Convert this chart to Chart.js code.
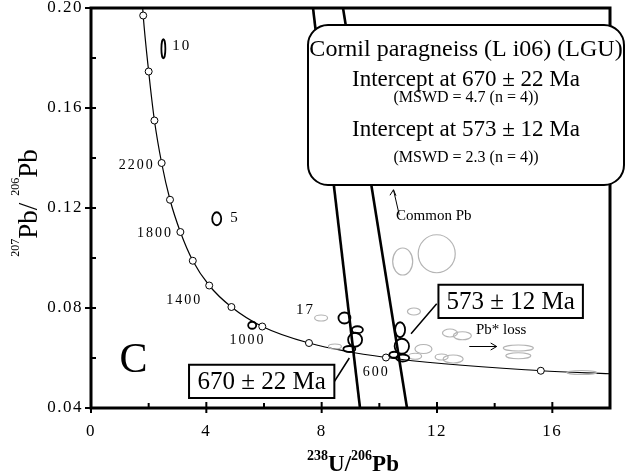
<!DOCTYPE html>
<html>
<head>
<meta charset="utf-8">
<script src="https://cdn.jsdelivr.net/npm/chart.js@4.4.1/dist/chart.umd.min.js"></script>
<style>
  html, body { margin: 0; padding: 0; background: #fff; }
</style>
</head>
<body>
<canvas id="chart" width="626" height="475"></canvas>
<script>
const SERIF = "'Liberation Serif', 'Times New Roman', serif";

const xMajor = [0, 4, 8, 12, 16];
const yMajor = [0.04, 0.08, 0.12, 0.16, 0.20];

// concordia age markers (Ma)
const concordiaAges = [2800, 2600, 2400, 2200, 2000, 1800, 1600, 1400, 1200, 1000, 800, 600, 400];
const concordiaX = [1.81, 2.00, 2.20, 2.45, 2.74, 3.10, 3.53, 4.10, 4.87, 5.94, 7.56, 10.23, 15.6];
const concordiaY = [0.197, 0.1746, 0.155, 0.138, 0.1233, 0.1104, 0.0989, 0.089, 0.0804, 0.0726, 0.066, 0.0602, 0.0549];
// where the curve leaves the frame
const curveStart = [1.79, 0.2005];
const curveEnd = [18, 0.0537];

// discordia chords (670 Ma and 573 Ma)
const chordAX = [7.70, 9.33];
const chordAY = [0.20, 0.04];
const chordBX = [8.74, 10.96];
const chordBY = [0.20, 0.04];

// analyses used (black) – centre and half-widths of error ellipses
const usedX  = [2.51, 4.36, 5.59, 8.79, 9.24, 9.16, 8.96, 10.72, 10.78, 10.52, 10.81];
const usedY  = [0.1837, 0.1157, 0.0731, 0.0760, 0.0713, 0.0673, 0.0636, 0.0713, 0.0647, 0.0613, 0.0600];
const usedSx = [0.069, 0.156, 0.139, 0.208, 0.191, 0.243, 0.208, 0.173, 0.250, 0.173, 0.225];
const usedSy = [0.0038, 0.0026, 0.0014, 0.0022, 0.0014, 0.0028, 0.0012, 0.0030, 0.0030, 0.0012, 0.0014];

// analyses not used (grey)
const otherX  = [7.98, 8.46, 10.81, 11.99, 11.20, 12.45, 12.88, 11.53, 11.24, 12.16, 12.56, 14.82, 14.82, 17.02];
const otherY  = [0.0760, 0.0646, 0.0986, 0.1017, 0.0786, 0.0700, 0.0689, 0.0636, 0.0607, 0.0604, 0.0596, 0.0640, 0.0609, 0.0542];
const otherSx = [0.225, 0.225, 0.347, 0.642, 0.225, 0.260, 0.312, 0.295, 0.225, 0.225, 0.347, 0.520, 0.434, 0.520];
const otherSy = [0.0012, 0.0010, 0.0054, 0.0076, 0.0014, 0.0016, 0.0016, 0.0018, 0.0012, 0.0012, 0.0016, 0.0012, 0.0012, 0.0008];

const ageLabels = ['2200', '1800', '1400', '1000', '600'];
const ageLabelX = [1.585, 2.22, 3.23, 5.43, 9.89];
const ageLabelY = [0.137, 0.1097, 0.083, 0.067, 0.0542];

const spotLabels = ['10', '5', '17'];
const spotLabelX = [3.15, 4.99, 7.44];
const spotLabelY = [0.1846, 0.116, 0.079];

const infoLines = [
    'Cornil paragneiss (L i06) (LGU)',
    'Intercept at 670 \u00b1 22 Ma',
    '(MSWD = 4.7 (n = 4))',
    'Intercept at 573 \u00b1 12 Ma',
    '(MSWD = 2.3 (n = 4))'
];

const curvePts = [{ x: curveStart[0], y: curveStart[1] }]
    .concat(concordiaX.map((v, i) => ({ x: v, y: concordiaY[i] })))
    .concat([{ x: curveEnd[0], y: curveEnd[1] }]);

function isMajor(list, v) {
    return list.some(m => Math.abs(m - v) < 1e-6);
}

function drawRich(ctx, pieces, cx, base, mainFont, supFont, rise) {
    let total = 0;
    pieces.forEach(p => {
        ctx.font = p.sup ? supFont : mainFont;
        p.w = ctx.measureText(p.t).width;
        total += p.w;
    });
    let xx = cx - total / 2;
    ctx.textAlign = 'left';
    ctx.textBaseline = 'alphabetic';
    pieces.forEach(p => {
        ctx.font = p.sup ? supFont : mainFont;
        ctx.fillText(p.t, xx, p.sup ? base - rise : base);
        xx += p.w;
    });
}

const overlay = {
    id: 'overlay',
    beforeDraw(chart) {
        chart.ctx.letterSpacing = '1.5px';
    },
    beforeDatasetsDraw(chart) {
        chart.ctx.letterSpacing = '0px';
    },
    afterDatasetsDraw(chart) {
        const { ctx, chartArea: a, scales: { x, y } } = chart;
        const px = v => x.getPixelForValue(v);
        const py = v => y.getPixelForValue(v);

        ctx.save();
        ctx.beginPath();
        ctx.rect(a.left, a.top, a.width, a.height);
        ctx.clip();

        // grey ellipses
        ctx.strokeStyle = '#b4b4b4';
        ctx.lineWidth = 1.2;
        otherX.forEach((v, i) => {
            const rx = Math.abs(px(v + otherSx[i]) - px(v));
            const ry = Math.abs(py(otherY[i] + otherSy[i]) - py(otherY[i]));
            ctx.beginPath();
            ctx.ellipse(px(v), py(otherY[i]), rx, ry, 0, 0, Math.PI * 2);
            ctx.stroke();
        });
        // black ellipses
        ctx.strokeStyle = '#000';
        ctx.lineWidth = 1.8;
        usedX.forEach((v, i) => {
            const rx = Math.abs(px(v + usedSx[i]) - px(v));
            const ry = Math.abs(py(usedY[i] + usedSy[i]) - py(usedY[i]));
            ctx.beginPath();
            ctx.ellipse(px(v), py(usedY[i]), rx, ry, 0, 0, Math.PI * 2);
            ctx.stroke();
        });
        ctx.restore();

        ctx.save();
        ctx.fillStyle = '#000';
        ctx.strokeStyle = '#000';

        // labels on the concordia and spots
        ctx.letterSpacing = '2px';
        ctx.font = '14px ' + SERIF;
        ctx.textAlign = 'center';
        ctx.textBaseline = 'middle';
        ageLabels.forEach((t, i) => ctx.fillText(t, px(ageLabelX[i]), py(ageLabelY[i])));
        ctx.font = '15px ' + SERIF;
        spotLabels.forEach((t, i) => ctx.fillText(t, px(spotLabelX[i]), py(spotLabelY[i])));
        ctx.letterSpacing = '0px';

        // frame
        ctx.lineWidth = 3;
        ctx.strokeRect(a.left, a.top, a.width, a.height);

        // tick marks
        ctx.lineWidth = 2;
        x.ticks.forEach(t => {
            const xx = px(t.value);
            ctx.beginPath();
            if (isMajor(xMajor, t.value)) {
                ctx.moveTo(xx, a.bottom - 6); ctx.lineTo(xx, a.bottom + 5);
            } else {
                ctx.moveTo(xx, a.bottom); ctx.lineTo(xx, a.bottom - 5);
            }
            ctx.stroke();
        });
        y.ticks.forEach(t => {
            const yy = py(t.value);
            ctx.beginPath();
            if (isMajor(yMajor, t.value)) {
                ctx.moveTo(a.left - 6, yy); ctx.lineTo(a.left + 5, yy);
            } else {
                ctx.moveTo(a.left, yy); ctx.lineTo(a.left + 5, yy);
            }
            ctx.stroke();
        });

        // big "C"
        ctx.font = '42px ' + SERIF;
        ctx.textAlign = 'center';
        ctx.textBaseline = 'middle';
        ctx.fillText('C', px(1.47), py(0.0589));

        // Common Pb arrow
        ctx.lineWidth = 1;
        ctx.beginPath();
        ctx.moveTo(px(10.69), py(0.1173));
        ctx.lineTo(px(10.49), py(0.1273));
        ctx.stroke();
        let hx = px(10.49), hy = py(0.1273);
        ctx.beginPath();
        ctx.moveTo(hx - 3.5, hy + 5.5); ctx.lineTo(hx, hy); ctx.lineTo(hx + 2.5, hy + 6);
        ctx.stroke();
        ctx.font = '15px ' + SERIF;
        ctx.textAlign = 'left';
        ctx.fillText('Common Pb', px(10.58), py(0.1168));

        // Pb* loss arrow
        ctx.fillText('Pb* loss', px(13.35), py(0.071));
        ctx.beginPath();
        ctx.moveTo(px(13.12), py(0.0646));
        ctx.lineTo(px(14.07), py(0.0646));
        ctx.stroke();
        hx = px(14.07); hy = py(0.0646);
        ctx.beginPath();
        ctx.moveTo(hx - 6, hy - 3.5); ctx.lineTo(hx, hy); ctx.lineTo(hx - 6, hy + 3.5);
        ctx.stroke();

        // intercept age boxes with leaders
        ctx.lineWidth = 1.5;
        ctx.beginPath();
        ctx.moveTo(px(11.99), py(0.0817)); ctx.lineTo(px(11.10), py(0.0697));
        ctx.moveTo(px(8.44), py(0.0506)); ctx.lineTo(px(8.96), py(0.0600));
        ctx.stroke();

        ctx.lineWidth = 2;
        [[12.05, 0.0893, 17.06, 0.0760, '573 \u00b1 12 Ma'], [3.40, 0.0573, 8.44, 0.0440, '670 \u00b1 22 Ma']].forEach(b => {
            const x0 = px(b[0]), y0 = py(b[1]), x1 = px(b[2]), y1 = py(b[3]);
            ctx.fillStyle = '#fff';
            ctx.fillRect(x0, y0, x1 - x0, y1 - y0);
            ctx.strokeRect(x0, y0, x1 - x0, y1 - y0);
            ctx.fillStyle = '#000';
            ctx.font = '25px ' + SERIF;
            ctx.textAlign = 'center';
            ctx.textBaseline = 'middle';
            ctx.fillText(b[4], (x0 + x1) / 2, (y0 + y1) / 2 + 1);
        });

        // info box
        ctx.beginPath();
        ctx.roundRect(308, 25, 316, 160, 20);
        ctx.fillStyle = '#fff';
        ctx.fill();
        ctx.lineWidth = 2;
        ctx.stroke();
        ctx.fillStyle = '#000';
        ctx.textAlign = 'center';
        ctx.textBaseline = 'middle';
        const fonts = [24, 23, 16, 23, 16];
        const ys = [50, 80, 98, 130, 158];
        infoLines.forEach((t, i) => {
            ctx.font = fonts[i] + 'px ' + SERIF;
            ctx.fillText(t, 466, ys[i]);
        });

        // axis titles
        drawRich(ctx, [
            { t: '238', sup: true }, { t: 'U/', sup: false },
            { t: '206', sup: true }, { t: 'Pb', sup: false }
        ], 353, 471, 'bold 23px ' + SERIF, 'bold 14px ' + SERIF, 11);

        ctx.translate(37, 203);
        ctx.rotate(-Math.PI / 2);
        drawRich(ctx, [
            { t: '207', sup: true }, { t: 'Pb/ ', sup: false },
            { t: '206', sup: true }, { t: 'Pb', sup: false }
        ], 0, 0, '27px ' + SERIF, '12px ' + SERIF, 18);
        ctx.restore();
    }
};

const ctx = document.getElementById('chart').getContext('2d');

new Chart(ctx, {
    type: 'scatter',
    data: {
        datasets: [
            {
                label: 'Age markers',
                data: concordiaX.map((v, i) => ({ x: v, y: concordiaY[i] })),
                pointRadius: 3.5,
                pointBackgroundColor: '#fff',
                pointBorderColor: '#000',
                pointBorderWidth: 1
            },
            {
                type: 'line',
                label: 'Concordia',
                data: curvePts,
                borderColor: '#000',
                borderWidth: 1.2,
                pointRadius: 0,
                cubicInterpolationMode: 'monotone',
                fill: false
            },
            {
                type: 'line',
                label: '670 Ma',
                data: chordAX.map((v, i) => ({ x: v, y: chordAY[i] })),
                borderColor: '#000',
                borderWidth: 2.6,
                pointRadius: 0
            },
            {
                type: 'line',
                label: '573 Ma',
                data: chordBX.map((v, i) => ({ x: v, y: chordBY[i] })),
                borderColor: '#000',
                borderWidth: 2.6,
                pointRadius: 0
            }
        ]
    },
    options: {
        responsive: false,
        devicePixelRatio: 1,
        animation: false,
        layout: { padding: { left: 0, right: 16, top: 8, bottom: 0 } },
        plugins: {
            legend: { display: false },
            tooltip: { enabled: false }
        },
        scales: {
            x: {
                type: 'linear',
                min: 0,
                max: 18,
                grid: { display: false, drawTicks: false },
                border: { display: false },
                ticks: {
                    stepSize: 2,
                    padding: 13,
                    color: '#000',
                    font: { family: SERIF, size: 17 },
                    callback: v => isMajor(xMajor, v) ? String(v) : ''
                },
                afterFit: s => { s.height = 67; s.paddingLeft = 0; s.paddingRight = 0; }
            },
            y: {
                type: 'linear',
                min: 0.04,
                max: 0.20,
                grid: { display: false, drawTicks: false },
                border: { display: false },
                ticks: {
                    stepSize: 0.02,
                    padding: 8,
                    color: '#000',
                    font: { family: SERIF, size: 17 },
                    callback: v => isMajor(yMajor, v) ? v.toFixed(2) : ''
                },
                afterFit: s => { s.width = 91; s.paddingTop = 0; s.paddingBottom = 0; }
            }
        }
    },
    plugins: [overlay]
});
</script>
</body>
</html>
